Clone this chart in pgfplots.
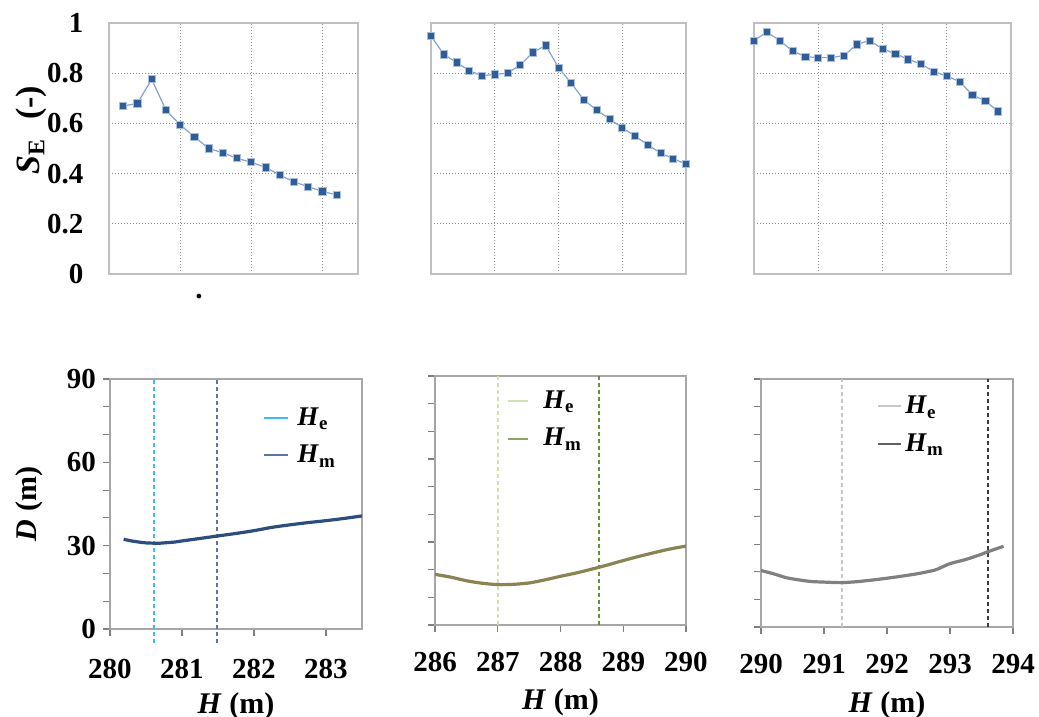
\documentclass[border=0pt]{standalone}
\usepackage{fontspec}
\setmainfont{Liberation Serif}
\usepackage{pgfplots}
\pgfplotsset{compat=1.18}
\definecolor{mk}{HTML}{2F5D98}
\definecolor{mkline}{HTML}{86A2CB}
\definecolor{mkhalo}{HTML}{A9BEDD}
\definecolor{gridc}{HTML}{8C8C8C}
\definecolor{boxc}{HTML}{BFBFBF}
\definecolor{c1}{HTML}{2B4E7E}
\definecolor{he1}{HTML}{3CBDEB}
\definecolor{hm1}{HTML}{5D76A0}
\definecolor{c2}{HTML}{8A8352}
\definecolor{he2}{HTML}{D2E2AE}
\definecolor{hm2}{HTML}{6F8C3C}
\definecolor{hmleg2}{HTML}{8CA566}
\definecolor{c3}{HTML}{808080}
\definecolor{he3}{HTML}{C8C8C8}
\definecolor{hm3}{HTML}{3C3C3C}
\definecolor{hmleg3}{HTML}{606060}
\newcommand{\lab}{\fontsize{14.5}{16}\selectfont\bfseries}
\newcommand{\axlab}{\fontsize{15}{17}\selectfont\bfseries}
\newcommand{\legfont}{\fontsize{13.5}{15}\selectfont\bfseries}
\newcommand{\legH}[1]{\textit{H}\textsubscript{#1}}

\pgfplotstableread{
H S
280.2 0.669
280.4 0.680
280.6 0.776
280.8 0.653
281.0 0.594
281.2 0.547
281.4 0.500
281.6 0.483
281.8 0.461
282.0 0.445
282.2 0.425
282.4 0.394
282.6 0.367
282.8 0.348
283.0 0.329
283.2 0.315
}\seA
\pgfplotstableread{
H S
286.0 0.948
286.2 0.875
286.4 0.843
286.6 0.810
286.8 0.790
287.0 0.795
287.2 0.800
287.4 0.833
287.6 0.883
287.8 0.911
288.0 0.822
288.2 0.760
288.4 0.693
288.6 0.653
288.8 0.618
289.0 0.582
289.2 0.550
289.4 0.515
289.6 0.482
289.8 0.459
290.0 0.438
}\seB
\pgfplotstableread{
H S
290.0 0.930
290.2 0.964
290.4 0.930
290.6 0.888
290.8 0.866
291.0 0.862
291.2 0.862
291.4 0.870
291.6 0.915
291.8 0.930
292.0 0.896
292.2 0.878
292.4 0.855
292.6 0.837
292.8 0.806
293.0 0.789
293.2 0.766
293.4 0.714
293.6 0.689
293.8 0.648
}\seC
\pgfplotstableread{
H D
280.19 32.3
280.3 31.7
280.4 31.3
280.5 31.0
280.6 30.9
280.7 30.9
280.8 31.1
280.9 31.3
281.0 31.7
281.25 32.6
281.5 33.5
281.75 34.4
282.0 35.4
282.25 36.6
282.5 37.5
282.75 38.3
283.0 39.0
283.25 39.8
283.5 40.7
}\dA
\pgfplotstableread{
H D
286.0 18.3
286.25 17.3
286.5 16.0
286.75 15.1
287.0 14.6
287.25 14.7
287.5 15.2
287.75 16.3
288.0 17.6
288.25 18.8
288.5 20.2
288.75 21.7
289.0 23.3
289.25 24.8
289.5 26.2
289.75 27.5
290.0 28.5
}\dB
\pgfplotstableread{
H D
290.0 20.5
290.2 19.3
290.4 17.9
290.6 17.1
290.8 16.5
291.0 16.3
291.25 16.1
291.5 16.4
291.75 17.0
292.0 17.7
292.25 18.5
292.5 19.4
292.75 20.6
292.85 21.5
293.0 23.0
293.25 24.5
293.5 26.4
293.6 27.3
293.85 29.3
}\dC

\pgfplotsset{
 base/.style={scale only axis, anchor=south west, font=\lab,
   tick label style={font=\lab}, label style={font=\axlab},
   /pgf/number format/assume math mode=true},
 topax/.style={base, height=125.5pt, ymin=0, ymax=1, ytick={0,0.2,...,1},
   grid=major, grid style={gridc, line width=0.5pt, densely dotted},
   axis line style={boxc, line width=0.8pt}, tick style={draw=none},
   xticklabels={},
   yticklabel style={/pgf/number format/fixed, /pgf/number format/precision=1, xshift=-9.3pt}},
 se/.style={mkline, line width=0.6pt, mark=square*, mark size=1.8pt,
   mark options={fill=mk, draw=mkhalo, line width=0.4pt, solid}},
 botax/.style={base, ymin=0, ymax=90, ytick={0,30,60,90}, minor ytick={10,20,40,50,70,80},
   tick align=outside, tick pos=left, major tick length=3.5pt, minor tick length=3.5pt,
   tick style={black!50, line width=0.6pt}, axis line style={black!35, line width=0.8pt},
   xticklabel style={anchor=center, yshift=-16.5pt},
   legend style={draw=none, fill=none, inner sep=0pt, row sep=5.5pt, font=\legfont,
     nodes={inner sep=1.5pt}},
   legend cell align=left},
 curve/.style={line width=1.6pt, smooth},
 vline/.style={line width=1pt, dash pattern=on 2pt off 1.5pt, forget plot},
}

\begin{document}
\begin{tikzpicture}
\useasboundingbox (0,0) rectangle (519.5pt,358.5pt);
% ---------------- top row ----------------
\begin{axis}[topax, at={(54.5pt,221.5pt)}, width=124.5pt,
  xmin=280, xmax=283.5, xtick={280,281,282,283},
  ylabel={\fontsize{17}{19}\selectfont\textit{S}\textsubscript{E}\hspace{0.3em} (-)},
  ylabel style={at={(axis description cs:-0.313,0.574)}, anchor=center}]
\addplot[se] table[x=H, y=S] {\seA};
\end{axis}
\node[font=\lab] at (99.5pt,210pt) {.};
\begin{axis}[topax, at={(215.5pt,221.5pt)}, width=127.5pt,
  xmin=286, xmax=290, xtick={286,...,290}, yticklabels={}]
\addplot[se] table[x=H, y=S] {\seB};
\end{axis}
\begin{axis}[topax, at={(377pt,221.5pt)}, width=128.5pt,
  xmin=290, xmax=294, xtick={290,...,294}, yticklabels={}]
\addplot[se] table[x=H, y=S] {\seC};
\end{axis}
% ---------------- bottom row ----------------
\begin{axis}[botax, at={(55pt,44pt)}, width=126pt, height=125pt, clip=false,
  xmin=280, xmax=283.5, xtick={280,281,282,283},
  xlabel={\textit{H} (m)}, ylabel={\textit{D} (m)},
  xlabel style={at={(axis description cs:0.5,-0.308)}, anchor=center},
  ylabel style={at={(axis description cs:-0.321,0.5)}, anchor=center},
  legend style={at={(axis description cs:0.607,0.9)}, anchor=north west, column sep=2.5pt},
  legend image code/.code={\draw[#1] (0pt,0pt) -- (12pt,0pt);}]
\addplot[vline, he1] coordinates {(280.61,-5) (280.61,90)};
\addplot[vline, hm1] coordinates {(281.49,-5) (281.49,90)};
\addplot[curve, c1, forget plot] table[x=H, y=D] {\dA};
\addlegendimage{he1, line width=1pt}
\addlegendentry{\legH{e}}
\addlegendimage{hm1, line width=1pt}
\addlegendentry{\legH{m}}
\end{axis}
\begin{axis}[botax, at={(217.5pt,46pt)}, width=125.5pt, height=124.5pt,
  xmin=286, xmax=290, xtick={286,...,290}, yticklabels={},
  xticklabel style={yshift=1.5pt},
  xlabel={\textit{H} (m)},
  xlabel style={at={(axis description cs:0.5,-0.312)}, anchor=center},
  legend style={at={(axis description cs:0.287,0.955)}, anchor=north west, column sep=5.5pt},
  legend image code/.code={\draw[#1] (0pt,0pt) -- (10pt,0pt);}]
\addplot[vline, he2] coordinates {(287.0,0) (287.0,90)};
\addplot[vline, hm2] coordinates {(288.62,0) (288.62,90)};
\addplot[curve, c2, forget plot] table[x=H, y=D] {\dB};
\addlegendimage{he2, line width=1pt}
\addlegendentry{\legH{e}}
\addlegendimage{hmleg2, line width=1pt}
\addlegendentry{\legH{m}}
\end{axis}
\begin{axis}[botax, at={(380.5pt,45pt)}, width=126pt, height=124pt,
  xmin=290, xmax=294, xtick={290,...,294}, yticklabels={},
  xticklabel style={yshift=1.5pt},
  xlabel={\textit{H} (m)},
  xlabel style={at={(axis description cs:0.5,-0.315)}, anchor=center},
  legend style={at={(axis description cs:0.46,0.945)}, anchor=north west, column sep=0pt},
  legend image code/.code={\draw[#1] (0pt,0pt) -- (11.5pt,0pt);}]
\addplot[vline, he3] coordinates {(291.29,0) (291.29,90)};
\addplot[vline, hm3] coordinates {(293.6,0) (293.6,90)};
\addplot[curve, c3, forget plot] table[x=H, y=D] {\dC};
\addlegendimage{he3, line width=1pt}
\addlegendentry{\legH{e}}
\addlegendimage{hmleg3, line width=1pt}
\addlegendentry{\legH{m}}
\end{axis}
\end{tikzpicture}
\end{document}
